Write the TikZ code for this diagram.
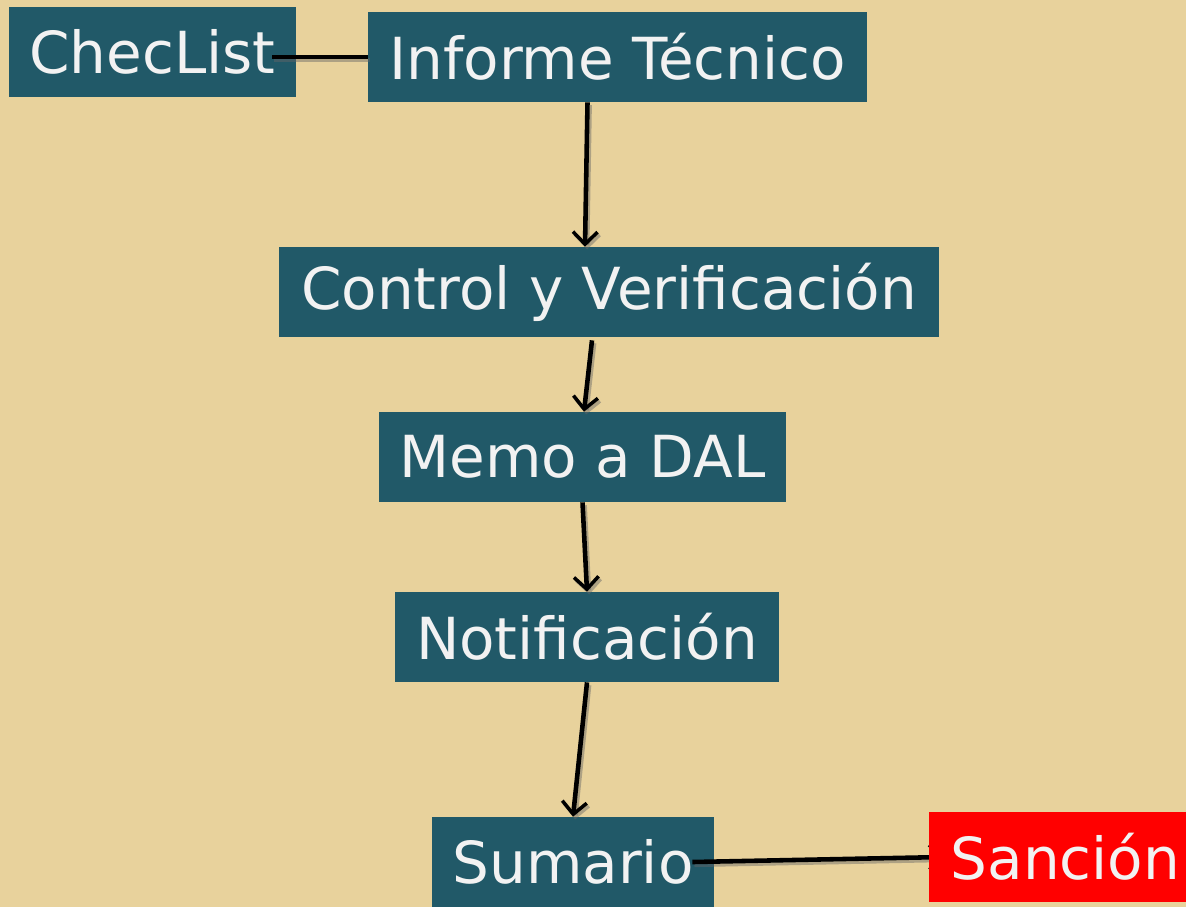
\documentclass[tikz,border=0pt]{standalone}
\usepackage{fontspec}
\setmainfont{DejaVu Sans}
\usepackage{xcolor}
\usetikzlibrary{arrows.meta,positioning,calc}
\definecolor{boxteal}{HTML}{215968}
\definecolor{paper}{HTML}{E8D29C}
\definecolor{boxtext}{HTML}{F2F2F2}
\tikzset{
	basic/.style = {rectangle, inner sep=0pt, minimum height=90*0.02cm, font=\fontsize{33}{36}\selectfont, text=boxtext},
	box/.style = {basic, fill=boxteal},
	redbox/.style = {basic, fill=red},
	link/.style = {line width=2.6pt, black, preaction={draw, line width=2.6pt, black!60, opacity=0.45, transform canvas={shift={(1.2pt,-1.6pt)}}}},
	flow/.style = {link, -{Straight Barb[length=7pt,width=14pt,line width=2pt]}}
}

\begin{document}
\begin{tikzpicture}[x=0.02cm, y=-0.02cm]
			
			% background sheet
			\fill[paper] (0,0) rectangle (1186,907);
			\useasboundingbox (0,0) rectangle (1186,907);
			
			% the boxes of the process
			\node[box, minimum width=287*0.02cm] (chk) at (152.5,52) {ChecList};
			\node[box, minimum width=499*0.02cm] (inf) at (617.5,57) {Informe Técnico};
			\node[box, minimum width=660*0.02cm] (ctl) at (609,292) {Control y Verificación};
			\node[box, minimum width=407*0.02cm] (memo) at (582.5,457) {Memo a DAL};
			\node[box, minimum width=384*0.02cm] (ntf) at (587,637) {Notificación};
			\node[box, minimum width=282*0.02cm] (sum) at (573,862) {Sumario};
			
			% connectors
			\draw[link] ([xshift=-24*0.02cm]chk.east |- inf.west) -- (inf.west);
			\draw[flow] ([xshift=-30*0.02cm]inf.south) -- ([xshift=-24*0.02cm]ctl.north);
			\draw[flow] ([xshift=-17*0.02cm,yshift=-3*0.02cm]ctl.south) -- ([xshift=1.5*0.02cm]memo.north);
			\draw[flow] (memo.south) -- (ntf.north);
			\draw[flow] (ntf.south) -- (sum.north);
			\draw[flow] ([xshift=-22*0.02cm]sum.east) -- (944,857);
			
			% the final box sits over the last arrow
			\node[redbox, minimum width=257*0.02cm] (snc) at (1057.5,857) {\hspace*{0.32cm}Sanción};
		\end{tikzpicture}
\end{document}
